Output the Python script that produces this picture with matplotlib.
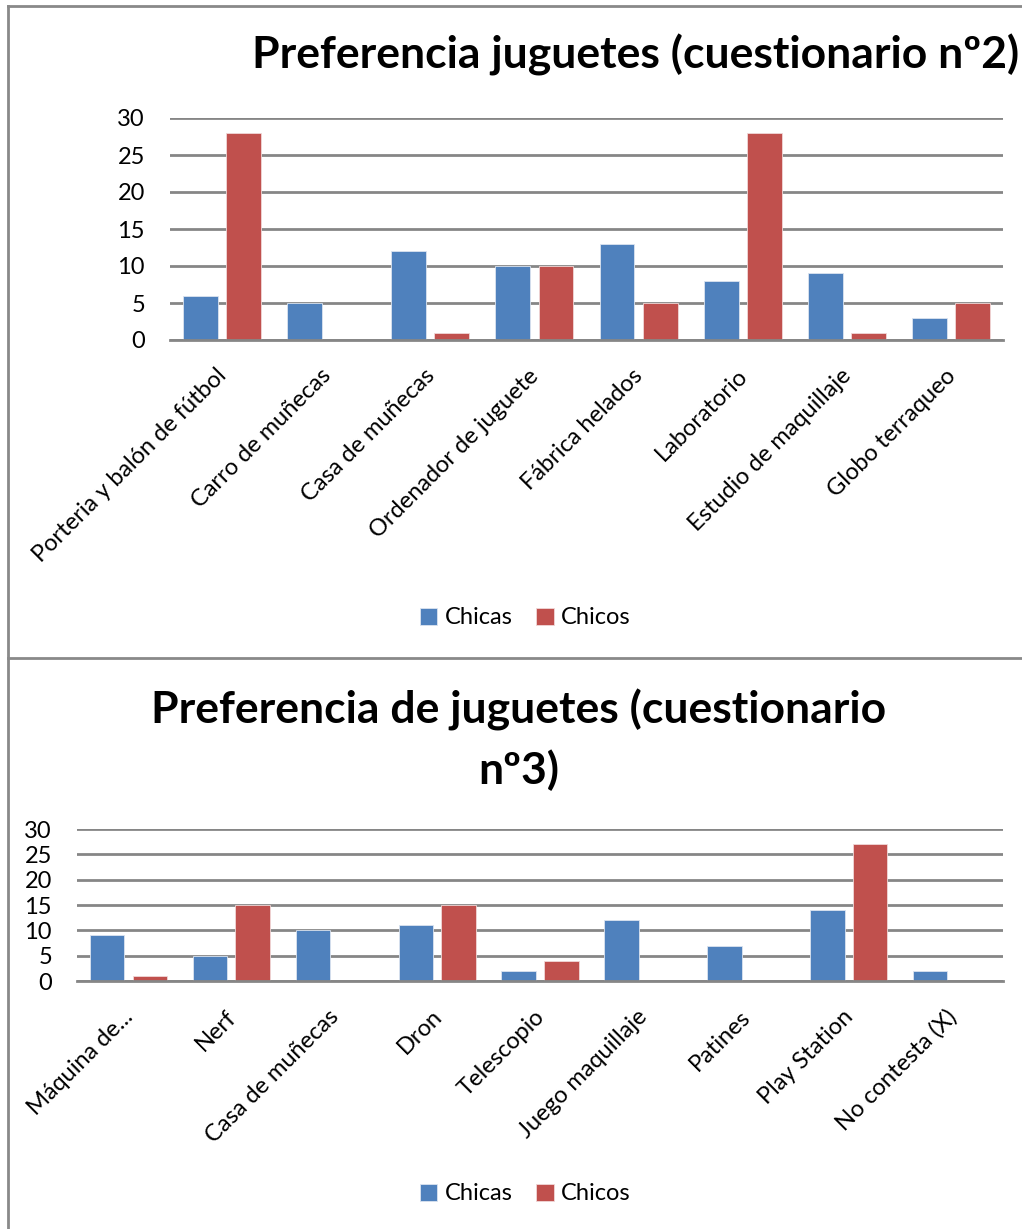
import matplotlib
matplotlib.use("Agg")
import matplotlib.pyplot as plt
import numpy as np
from matplotlib.lines import Line2D

plt.rcParams['font.family'] = ['Lato', 'DejaVu Sans']

# cuestionario 2
cats2 = ["Porteria y balón de fútbol", "Carro de muñecas", "Casa de muñecas",
         "Ordenador de juguete", "Fábrica helados", "Laboratorio",
         "Estudio de maquillaje", "Globo terraqueo"]
chicas2 = [6, 5, 12, 10, 13, 8, 9, 3]
chicos2 = [28, 0, 1, 10, 5, 28, 1, 5]

# cuestionario 3
cats3 = ["Máquina de...", "Nerf", "Casa de muñecas", "Dron", "Telescopio",
         "Juego maquillaje", "Patines", "Play Station", "No contesta (X)"]
chicas3 = [9, 5, 10, 11, 2, 12, 7, 14, 2]
chicos3 = [1, 15, 0, 15, 4, 0, 0, 27, 0]

blue = '#4F81BD'
red = '#C0504D'
grid = '#868686'

W, H = 1022, 1229
fig = plt.figure(figsize=(W / 100, H / 100), dpi=100)


def fx(px):
    return px / W


def fy(py):
    return 1 - py / H


def draw(ax, cats, a, b):
    x = np.arange(len(cats))
    w = 0.335
    ax.bar(x - 0.04 - w / 2, a, w, color=blue, edgecolor='#dbe4f0', lw=0.6, label='Chicas', zorder=3)
    ax.bar(x + 0.04 + w / 2, b, w, color=red, edgecolor='#f0d8d8', lw=0.6, label='Chicos', zorder=3)
    ax.set_xlim(-0.5, len(cats) - 0.5)
    ax.set_ylim(0, 30)
    ax.set_yticks(range(0, 31, 5))
    ax.yaxis.grid(True, color=grid, lw=2, zorder=0)
    for s in ['top', 'right', 'left']:
        ax.spines[s].set_visible(False)
    ax.spines['bottom'].set_color(grid)
    ax.spines['bottom'].set_linewidth(2)
    ax.spines['bottom'].set_zorder(4)
    ax.tick_params(axis='both', length=0, labelsize=17)
    ax.tick_params(axis='y', pad=18)
    ax.set_xticks(x - 0.06)
    ax.set_xticklabels(cats, rotation=45, ha='right', va='top', rotation_mode='anchor')
    ax.tick_params(axis='x', pad=18)


ax1 = fig.add_axes([fx(170), fy(340), fx(1003) - fx(170), fy(118) - fy(340)])
draw(ax1, cats2, chicas2, chicos2)
ax2 = fig.add_axes([fx(77), fy(981), fx(1003) - fx(77), fy(829) - fy(981)])
draw(ax2, cats3, chicas3, chicos3)

fig.text(fx(636), fy(55), "Preferencia juguetes (cuestionario nº2)", ha='center', va='center',
         fontsize=32, fontweight='bold')
fig.text(fx(519), fy(710), "Preferencia de juguetes (cuestionario", ha='center', va='center',
         fontsize=32, fontweight='bold')
fig.text(fx(519), fy(770), "nº3)", ha='center', va='center', fontsize=32, fontweight='bold')

for ly in [618, 1194]:
    fig.legend(handles=ax1.get_legend_handles_labels()[0], labels=['Chicas', 'Chicos'],
               loc='center', bbox_to_anchor=(fx(525), fy(ly)), ncol=2, frameon=False,
               fontsize=17, handlelength=0.75, handleheight=0.75, handletextpad=0.3, columnspacing=1.0)

# frame lines
fc = '#898989'
fig.add_artist(Line2D([fx(8), fx(8)], [fy(6), 0], color=fc, lw=2))
fig.add_artist(Line2D([fx(8), 1], [fy(6), fy(6)], color=fc, lw=2))
fig.add_artist(Line2D([fx(8), 1], [fy(658), fy(658)], color=fc, lw=2))

fig.savefig('out.png', dpi=100)
